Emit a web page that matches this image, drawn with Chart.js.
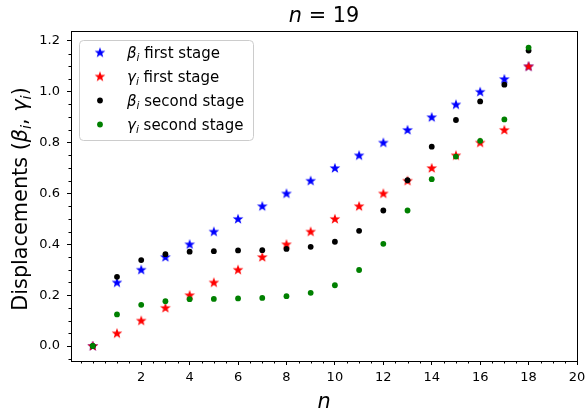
<!DOCTYPE html>
<html>
<head>
<meta charset="utf-8">
<script src="https://cdn.jsdelivr.net/npm/chart.js@4"></script>
<style>
  html, body { margin: 0; padding: 0; background: #fff; }
  canvas { display: block; }
</style>
</head>
<body>
<canvas id="grafik" width="587" height="414"></canvas>
<script>
// data
const nValues = [0, 1, 2, 3, 4, 5, 6, 7, 8, 9, 10, 11, 12, 13, 14, 15, 16, 17, 18];
const betaFirst = [0, 0.25, 0.30, 0.35, 0.40, 0.45, 0.50, 0.55, 0.60, 0.65, 0.70, 0.75, 0.80, 0.85, 0.90, 0.95, 1.00, 1.05, 1.10];
const gammaFirst = [0, 0.05, 0.10, 0.15, 0.20, 0.25, 0.30, 0.35, 0.40, 0.45, 0.50, 0.55, 0.60, 0.65, 0.70, 0.75, 0.80, 0.85, 1.10];
const betaSecond = [0, 0.272, 0.338, 0.361, 0.371, 0.373, 0.376, 0.377, 0.382, 0.390, 0.410, 0.453, 0.533, 0.652, 0.784, 0.889, 0.962, 1.028, 1.162];
const gammaSecond = [0, 0.124, 0.162, 0.176, 0.184, 0.185, 0.187, 0.189, 0.196, 0.209, 0.239, 0.299, 0.402, 0.533, 0.656, 0.745, 0.807, 0.891, 1.174];

const xTicks = [2, 4, 6, 8, 10, 12, 14, 16, 18, 20];
const yTicks = [0, 0.2, 0.4, 0.6, 0.8, 1.0, 1.2];

const FONT = 'DejaVu Sans';

function makeStar(color) {
  const c = document.createElement('canvas');
  c.width = 14;
  c.height = 14;
  const g = c.getContext('2d');
  g.beginPath();
  for (let k = 0; k < 10; k++) {
    const r = k % 2 ? 2.3 : 5.6;
    const a = -Math.PI / 2 + k * Math.PI / 5;
    g.lineTo(7 + r * Math.cos(a), 7.3 + r * Math.sin(a));
  }
  g.closePath();
  g.fillStyle = color;
  g.fill();
  return c;
}

const blueStar = makeStar('#0000ff');
const redStar = makeStar('#ff0000');

function toPoints(ys) {
  return nValues.map((n, i) => ({ x: n, y: ys[i] }));
}

// draws mixed-font text, x = left or centre
function drawRuns(ctx, runs, x, y, centre) {
  let w = 0;
  runs.forEach(r => {
    ctx.font = r.font;
    r.w = ctx.measureText(r.text).width;
    w += r.w;
  });
  let cx = centre ? x - w / 2 : x;
  ctx.textAlign = 'left';
  ctx.textBaseline = 'alphabetic';
  runs.forEach(r => {
    ctx.font = r.font;
    ctx.fillText(r.text, cx, y + (r.dy || 0));
    cx += r.w;
  });
}

function legendRuns(greek, stage) {
  return [
    { text: greek, font: `italic 15px ${FONT}` },
    { text: 'i', font: `italic 10.5px ${FONT}`, dy: 3 },
    { text: ' ' + stage + ' stage', font: `15px ${FONT}` },
  ];
}

const hiasanPlugin = {
  id: 'hiasan',
  afterDraw(chart) {
    const ctx = chart.ctx;
    const xs = chart.scales.x;
    const ys = chart.scales.y;
    const a = chart.chartArea;

    ctx.save();
    ctx.fillStyle = '#000';
    ctx.strokeStyle = '#000';
    ctx.lineWidth = 1;

    // frame
    ctx.strokeRect(Math.round(a.left) + 0.5, Math.round(a.top) + 0.5,
      Math.round(a.right - a.left), Math.round(a.bottom - a.top));

    // minor ticks
    ctx.beginPath();
    for (let v = -0.5; v < 20; v += 0.5) {
      if (xTicks.includes(v)) continue;
      const px = Math.round(xs.getPixelForValue(v)) + 0.5;
      ctx.moveTo(px, a.bottom);
      ctx.lineTo(px, a.bottom + 2.5);
    }
    for (let k = -1; k <= 24; k++) {
      if (k % 4 === 0) continue;
      const v = k * 0.05;
      if (v < ys.min || v > ys.max) continue;
      const py = Math.round(ys.getPixelForValue(v)) + 0.5;
      ctx.moveTo(a.left, py);
      ctx.lineTo(a.left - 2.5, py);
    }
    ctx.stroke();

    // title
    drawRuns(ctx, [
      { text: 'n', font: `italic 20.8px ${FONT}` },
      { text: ' = 19', font: `20.8px ${FONT}` },
    ], (a.left + a.right) / 2, 22, true);

    // x label
    drawRuns(ctx, [{ text: 'n', font: `italic 20.8px ${FONT}` }],
      (a.left + a.right) / 2, 408, true);

    // y label
    ctx.save();
    ctx.translate(27, (a.top + a.bottom) / 2 + 3);
    ctx.rotate(-Math.PI / 2);
    drawRuns(ctx, [
      { text: 'Displacements (', font: `20.8px ${FONT}` },
      { text: 'β', font: `italic 20.8px ${FONT}` },
      { text: 'i', font: `italic 14.5px ${FONT}`, dy: 4 },
      { text: ', ', font: `20.8px ${FONT}` },
      { text: 'γ', font: `italic 20.8px ${FONT}` },
      { text: 'i', font: `italic 14.5px ${FONT}`, dy: 4 },
      { text: ')', font: `20.8px ${FONT}` },
    ], 0, 0, true);
    ctx.restore();

    // legend
    ctx.beginPath();
    ctx.roundRect(79.5, 40.5, 174, 100, 4);
    ctx.fillStyle = 'rgba(255,255,255,0.8)';
    ctx.fill();
    ctx.strokeStyle = '#cccccc';
    ctx.stroke();

    const rows = [
      { mark: blueStar, greek: 'β', stage: 'first' },
      { mark: redStar, greek: 'γ', stage: 'first' },
      { mark: '#000000', greek: 'β', stage: 'second' },
      { mark: '#008000', greek: 'γ', stage: 'second' },
    ];
    rows.forEach((r, i) => {
      const cy = 52.5 + i * 24;
      if (typeof r.mark === 'string') {
        ctx.beginPath();
        ctx.arc(100, cy, 2.9, 0, Math.PI * 2);
        ctx.fillStyle = r.mark;
        ctx.fill();
      } else {
        ctx.drawImage(r.mark, 100 - 7, cy - 7);
      }
      ctx.fillStyle = '#000';
      drawRuns(ctx, legendRuns(r.greek, r.stage), 127, cy + 5.5, false);
    });

    ctx.restore();
  }
};

const ctx = document.getElementById('grafik').getContext('2d');

new Chart(ctx, {
  type: 'scatter',
  data: {
    datasets: [
      { label: 'beta first', data: toPoints(betaFirst), pointStyle: blueStar, pointRadius: 5, order: 3 },
      { label: 'gamma first', data: toPoints(gammaFirst), pointStyle: redStar, pointRadius: 5, order: 2 },
      { label: 'beta second', data: toPoints(betaSecond), pointStyle: 'circle', pointRadius: 2.9,
        backgroundColor: '#000000', borderWidth: 0, order: 1 },
      { label: 'gamma second', data: toPoints(gammaSecond), pointStyle: 'circle', pointRadius: 2.9,
        backgroundColor: '#008000', borderWidth: 0, order: 0 },
    ]
  },
  options: {
    responsive: false,
    animation: false,
    devicePixelRatio: 1,
    layout: { padding: { left: 0, right: 10, top: 31, bottom: 0 } },
    scales: {
      x: {
        type: 'linear',
        min: -0.9,
        max: 20,
        afterBuildTicks: s => { s.ticks = xTicks.map(v => ({ value: v })); },
        afterFit: s => { s.height = 53; s.paddingLeft = 0; s.paddingRight = 0; },
        grid: { drawOnChartArea: false, tickLength: 4, tickColor: '#000', tickWidth: 1 },
        border: { display: true, color: '#000', width: 1 },
        ticks: { color: '#000', font: { family: FONT, size: 13 }, padding: 5, maxRotation: 0, autoSkip: false }
      },
      y: {
        type: 'linear',
        min: -0.059,
        max: 1.239,
        afterBuildTicks: s => { s.ticks = yTicks.map(v => ({ value: v })); },
        afterFit: s => { s.width = 71; s.paddingTop = 0; s.paddingBottom = 0; },
        grid: { drawOnChartArea: false, tickLength: 4, tickColor: '#000', tickWidth: 1 },
        border: { display: true, color: '#000', width: 1 },
        ticks: {
          color: '#000', font: { family: FONT, size: 13 }, padding: 7, autoSkip: false,
          callback: v => v.toFixed(1)
        }
      }
    },
    plugins: {
      legend: { display: false },
      tooltip: { enabled: false },
      title: { display: false }
    }
  },
  plugins: [hiasanPlugin]
});
</script>
</body>
</html>
